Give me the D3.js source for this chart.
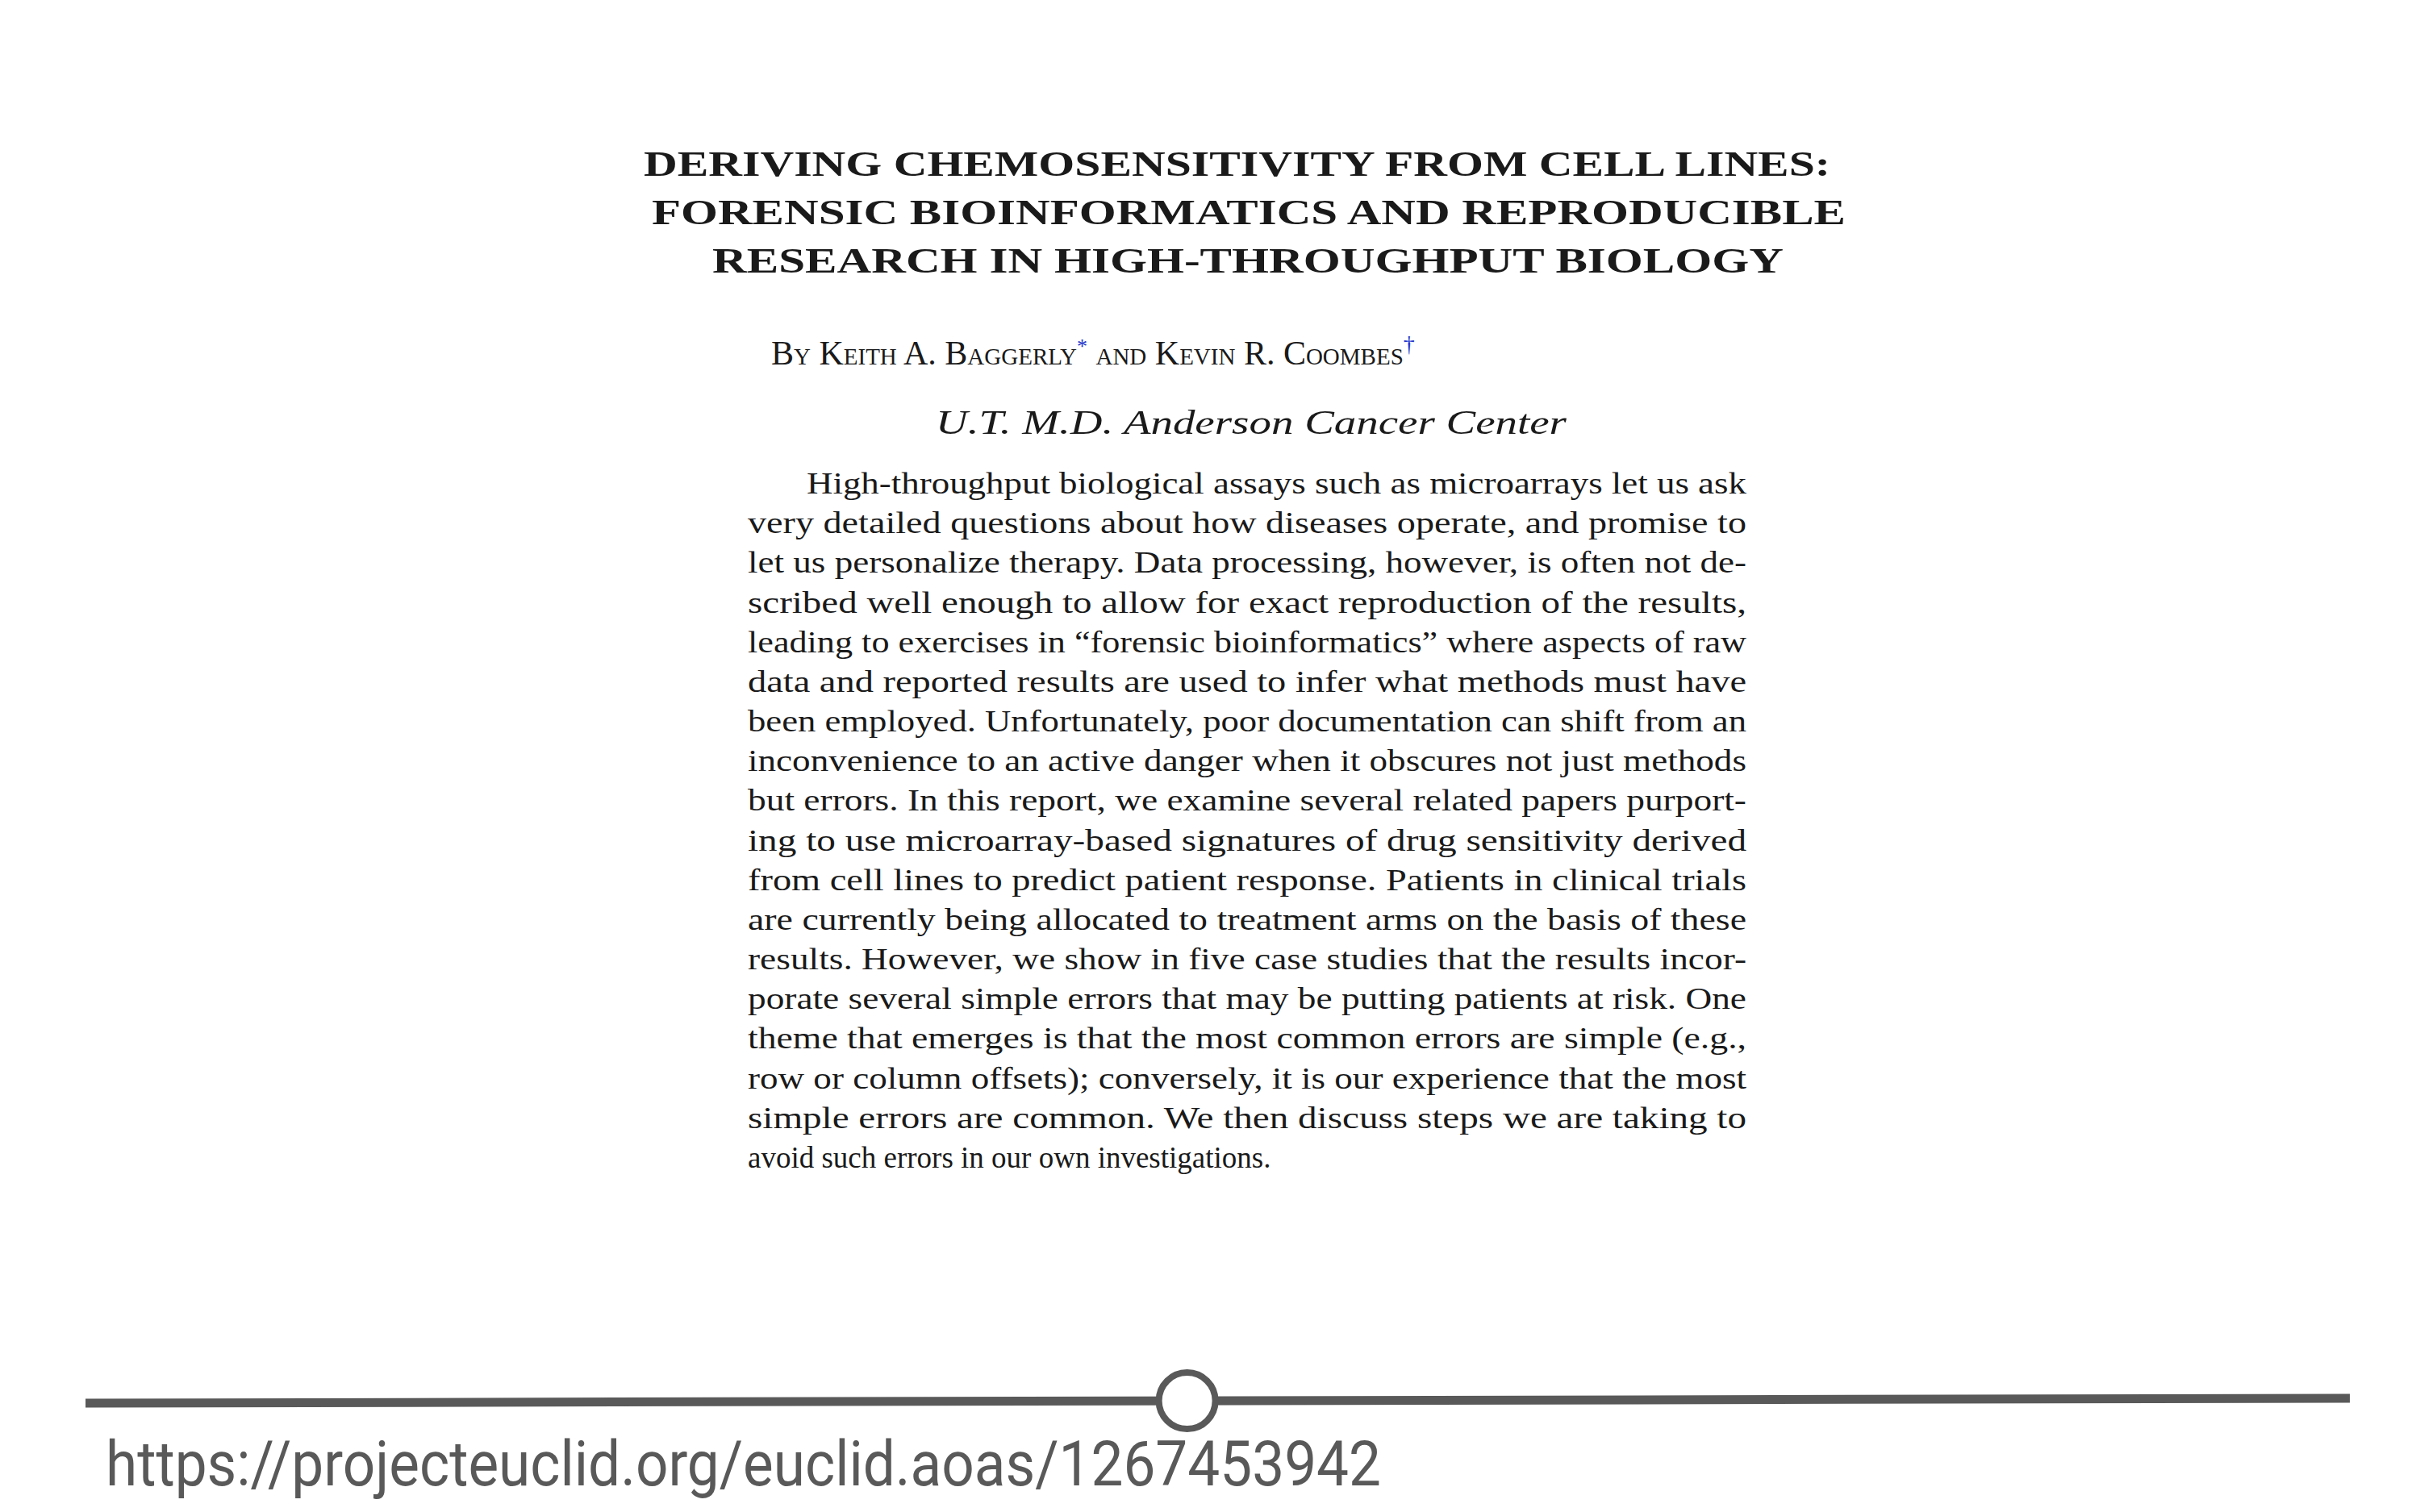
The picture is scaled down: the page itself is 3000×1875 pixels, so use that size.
<!DOCTYPE html>
<html>
<head>
<meta charset="utf-8">
<script src="https://cdn.jsdelivr.net/npm/d3@7"></script>
<style>
  body { margin: 0; background: #fff; }
</style>
</head>
<body>
<svg id="slide" width="3000" height="1875"></svg>
<script>
const titleLines = [
    'DERIVING CHEMOSENSITIVITY FROM CELL LINES:',
    'FORENSIC BIOINFORMATICS AND REPRODUCIBLE',
    'RESEARCH IN HIGH-THROUGHPUT BIOLOGY'
];
const titleSpans = [[798, 2269], [808, 2288], [883, 2211]];

const abstractLines = [
    'High-throughput biological assays such as microarrays let us ask',
    'very detailed questions about how diseases operate, and promise to',
    'let us personalize therapy. Data processing, however, is often not de-',
    'scribed well enough to allow for exact reproduction of the results,',
    'leading to exercises in \u201cforensic bioinformatics\u201d where aspects of raw',
    'data and reported results are used to infer what methods must have',
    'been employed. Unfortunately, poor documentation can shift from an',
    'inconvenience to an active danger when it obscures not just methods',
    'but errors. In this report, we examine several related papers purport-',
    'ing to use microarray-based signatures of drug sensitivity derived',
    'from cell lines to predict patient response. Patients in clinical trials',
    'are currently being allocated to treatment arms on the basis of these',
    'results. However, we show in five case studies that the results incor-',
    'porate several simple errors that may be putting patients at risk. One',
    'theme that emerges is that the most common errors are simple (e.g.,',
    'row or column offsets); conversely, it is our experience that the most',
    'simple errors are common. We then discuss steps we are taking to',
    'avoid such errors in our own investigations.'
];

const sliderPos = 0.4865;   // fraction along the bar
const url = 'https://projecteuclid.org/euclid.aoas/1267453942';

const svg = d3.select('#slide');
const serif = '"Liberation Serif", "DejaVu Serif", serif';

// title
svg.selectAll('.title').data(titleLines).enter().append('text')
    .attr('class', 'title')
    .attr('x', (d, i) => titleSpans[i][0])
    .attr('y', (d, i) => 218 + i * 60)
    .attr('textLength', (d, i) => titleSpans[i][1] - titleSpans[i][0])
    .attr('lengthAdjust', 'spacingAndGlyphs')
    .style('font-family', serif)
    .style('font-weight', 'bold')
    .style('font-size', '44px')
    .attr('fill', '#1a1a1a')
    .text(d => d);

// authors
const auth = svg.append('text')
    .attr('x', 956).attr('y', 452)
    .style('font-family', serif)
    .style('font-size', '42px')
    .style('font-variant', 'small-caps')
    .attr('fill', '#1a1a1a');
auth.append('tspan').text('By Keith A. Baggerly');
auth.append('tspan').text('*').attr('fill', '#2233cc').attr('dy', -14).style('font-size', '26px');
auth.append('tspan').text(' and Kevin R. Coombes').attr('dy', 14);
auth.append('tspan').text('\u2020').attr('fill', '#2233cc').attr('dy', -16).style('font-size', '28px');

// affiliation
svg.append('text')
    .attr('x', 1160).attr('y', 538)
    .attr('textLength', 782)
    .attr('lengthAdjust', 'spacingAndGlyphs')
    .style('font-family', serif)
    .style('font-style', 'italic')
    .style('font-size', '42px')
    .attr('fill', '#1a1a1a')
    .text('U.T. M.D. Anderson Cancer Center');

// abstract body, justified
const lineY = d3.scaleLinear().domain([0, abstractLines.length - 1]).range([612, 1448]);
const last = abstractLines.length - 1;
svg.selectAll('.body').data(abstractLines).enter().append('text')
    .attr('class', 'body')
    .attr('x', (d, i) => i === 0 ? 1000 : 927)
    .attr('y', (d, i) => lineY(i))
    .each(function(d, i) {
        if (i !== last) {
            d3.select(this)
                .attr('textLength', 2165 - (i === 0 ? 1000 : 927))
                .attr('lengthAdjust', 'spacingAndGlyphs');
        }
    })
    .style('font-family', serif)
    .style('font-size', '37px')
    .attr('fill', '#1a1a1a')
    .text(d => d);

// slider bar
const barX = d3.scaleLinear().domain([0, 1]).range([106, 2913]);
const barY = d3.scaleLinear().domain([0, 1]).range([1740, 1734]);
const knobX = barX(sliderPos);
svg.append('line')
    .attr('x1', barX(0)).attr('y1', barY(0))
    .attr('x2', barX(1)).attr('y2', barY(1))
    .attr('stroke', '#595959').attr('stroke-width', 11);

// url text (drawn before knob so knob overlaps)
svg.append('text')
    .attr('x', 131).attr('y', 1842)
    .attr('textLength', 1581)
    .attr('lengthAdjust', 'spacingAndGlyphs')
    .style('font-family', 'Roboto, sans-serif')
    .style('font-size', '78px')
    .attr('fill', '#595959')
    .text(url);

svg.append('circle')
    .attr('cx', knobX).attr('cy', barY(sliderPos))
    .attr('r', 35)
    .attr('fill', '#fff')
    .attr('stroke', '#595959').attr('stroke-width', 8);
</script>
</body>
</html>
